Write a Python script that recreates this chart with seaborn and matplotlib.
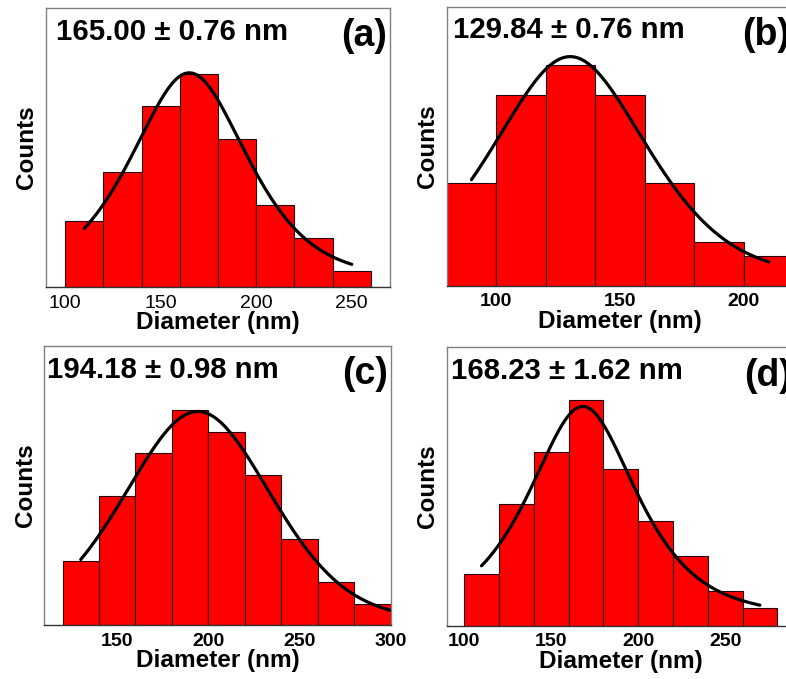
import numpy as np
import pandas as pd
import matplotlib
matplotlib.use("Agg")
import matplotlib.pyplot as plt
import seaborn as sns

# ---------------- data ----------------
panel_letters = ["(a)", "(b)", "(c)", "(d)"]
size_labels = ["165.00 ± 0.76 nm", "129.84 ± 0.76 nm",
               "194.18 ± 0.98 nm", "168.23 ± 1.62 nm"]
bin_width = 20
first_edge = [100, 80, 120, 100]
counts_a = [4, 7, 11, 13, 9, 5, 3, 1]
counts_b = [7, 13, 15, 13, 7, 3, 2]
counts_c = [3, 6, 8, 10, 9, 7, 4, 2, 1]
counts_d = [3, 7, 10, 13, 9, 6, 4, 2, 1]
all_counts = [counts_a, counts_b, counts_c, counts_d]
ticks_a = [100, 150, 200, 250]
ticks_b = [100, 150, 200]
ticks_c = [150, 200, 250, 300]
ticks_d = [100, 150, 200, 250]
all_ticks = [ticks_a, ticks_b, ticks_c, ticks_d]
x_limits = [(90, 270), (80, 220), (110, 300), (90, 290)]
y_max = [17, 19, 13, 16]
x_label = "Diameter (nm)"
y_label = "Counts"

# fitted size-distribution curve (peak position, peak height, half width, shape)
fit_center = [165.00, 129.84, 194.18, 168.23]
fit_peak = [13.05, 15.6, 9.95, 12.6]
fit_hwhm = [37.0, 37.5, 48.0, 38.0]
fit_eta = [0.6, 0.45, 0.25, 0.75]
fit_start = [110, 90, 130, 110]
fit_end = [250, 210, 300, 270]

# ---------------- layout ----------------
W, H = 786, 679
boxes_px = [(46, 8, 390, 287), (446.7, 6.7, 793.5, 285.7),
            (44.3, 346, 390.7, 625), (446.7, 347.3, 794.7, 625.7)]
text_inset_px = [10, 6.6, 3, 4.3]
tick_bold = [False, True, True, True]

sns.set_style("white")
plt.rcParams["font.family"] = ["Liberation Sans", "DejaVu Sans"]
plt.rcParams["text.color"] = "black"
plt.rcParams["axes.labelcolor"] = "black"
plt.rcParams["xtick.color"] = "black"

fig = plt.figure(figsize=(W / 100, H / 100), dpi=100)
px = 0.72  # points per pixel at 100 dpi


def fit_curve(x, c, a, h, eta):
    d = (x - c) / h
    g = np.exp(-np.log(2) * d ** 2)
    l = 1.0 / (1.0 + d ** 2)
    return a * (eta * l + (1 - eta) * g)


for i in range(4):
    l, t, r, b = boxes_px[i]
    ax = fig.add_axes([l / W, 1 - b / H, (r - l) / W, (b - t) / H])
    counts = all_counts[i]
    edges = [first_edge[i] + bin_width * k for k in range(len(counts) + 1)]
    df = pd.DataFrame({"diameter": [e + bin_width / 2 for e in edges[:-1]],
                       "n": counts})
    sns.histplot(data=df, x="diameter", weights="n", bins=edges, ax=ax,
                 color="#ff0000", alpha=1, edgecolor="#2a0505",
                 linewidth=0.8)
    xs = np.linspace(fit_start[i], fit_end[i], 400)
    ys = fit_curve(xs, fit_center[i], fit_peak[i], fit_hwhm[i], fit_eta[i])
    sns.lineplot(x=xs, y=ys, ax=ax, color="black", linewidth=2.3)

    ax.set_xlim(*x_limits[i])
    ax.set_ylim(0, y_max[i])
    ax.set_xticks(all_ticks[i])
    ax.set_yticks([])
    ax.tick_params(axis="x", length=0, pad=5.5, labelsize=14,
                   colors="black")
    for lbl in ax.get_xticklabels():
        lbl.set_fontweight("bold" if tick_bold[i] else "normal")
    ax.set_xlabel(x_label, fontsize=17.6, fontweight="bold", labelpad=-0.5)
    ax.set_ylabel(y_label, fontsize=17.5, fontweight="bold", labelpad=5.5)
    for name, sp in ax.spines.items():
        sp.set_visible(True)
        sp.set_linewidth(1.0)
        sp.set_color("#333333" if name == "bottom" else "#808080")

    ax.annotate(size_labels[i], xy=(0, 1), xycoords="axes fraction",
                xytext=(text_inset_px[i] * px, -31.5 * px),
                textcoords="offset points", ha="left", va="baseline",
                fontsize=21.2, fontweight="bold")
    ax.annotate(panel_letters[i], xy=(1, 1), xycoords="axes fraction",
                xytext=(-3 * px, -38.5 * px), textcoords="offset points",
                ha="right", va="baseline", fontsize=27, fontweight="bold")

fig.savefig("out.png", dpi=100)
